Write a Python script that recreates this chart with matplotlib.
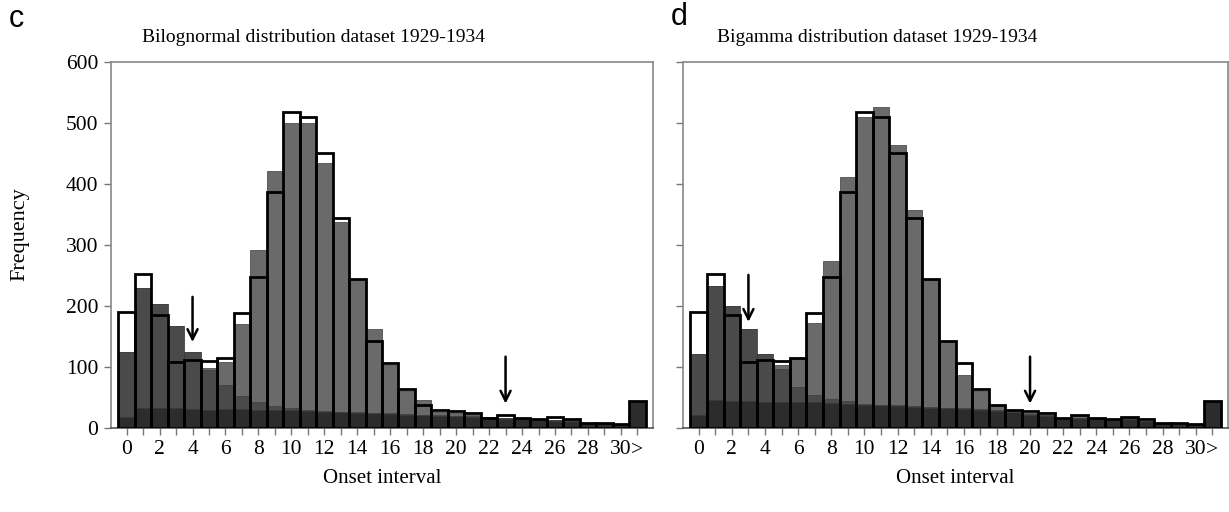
import matplotlib.pyplot as plt
import numpy as np

plt.rcParams['font.family'] = 'Liberation Serif'

# onset interval bins 0..30 plus the ">" overflow bin
bins = np.arange(32)
xlabels = [str(i) if i % 2 == 0 else '' for i in range(31)] + ['>']

# observed onset intervals, 1929-1934
observed = [190, 253, 186, 109, 111, 110, 114, 189, 247, 387, 518, 510, 451, 344, 245, 143,
            106, 64, 38, 30, 28, 24, 16, 21, 16, 15, 18, 14, 8, 9, 6, 44]

# fitted components, bilognormal model
ln_base = [18, 33, 33, 33, 31, 30, 31, 31, 30, 30, 30, 28, 27, 26, 25, 24,
           23, 22, 21, 20, 19, 18, 15, 15, 14, 13, 12, 12, 8, 8, 6, 44]
ln_early = [106, 197, 171, 134, 93, 65, 39, 21, 13, 6, 3, 2, 1, 1, 1, 1,
            1, 1, 1, 1, 1, 1, 1, 1, 1, 1, 1, 0, 0, 0, 0, 0]
ln_main = [0, 0, 0, 0, 0, 3, 39, 118, 248, 385, 467, 470, 406, 311, 218, 138,
           80, 37, 24, 6, 5, 3, 2, 1, 1, 1, 0, 1, 0, 1, 0, 0]
ln_arrows = [(4, 141, 215), (23, 40, 117)]

# fitted components, bigamma model
ga_base = [21, 46, 45, 44, 43, 43, 43, 42, 41, 40, 38, 37, 36, 35, 33, 32,
           31, 30, 28, 26, 22, 20, 15, 16, 14, 13, 14, 11, 8, 7, 6, 44]
ga_early = [101, 186, 155, 119, 79, 54, 25, 12, 7, 4, 2, 1, 1, 1, 1, 1,
            1, 1, 1, 1, 1, 1, 1, 1, 1, 1, 1, 1, 1, 0, 0, 0]
ga_main = [0, 0, 0, 0, 0, 6, 45, 118, 225, 368, 470, 489, 427, 322, 208, 110,
           55, 29, 8, 2, 1, 1, 0, 2, 0, 0, 1, 0, 0, 0, 0, 0]
ga_arrows = [(3, 174, 251), (20, 40, 117)]

W, H = 1229, 512
fig = plt.figure(figsize=(W / 100, H / 100), dpi=100)


def panel(rect, base, early, main, arrows, show_ylabels):
    ax = fig.add_axes(rect)
    base = np.array(base)
    early = np.array(early)
    main = np.array(main)
    ax.bar(bins, observed, width=1, color='white', linewidth=0, zorder=1)
    ax.bar(bins, base, width=1, color='#2c2c2c', edgecolor='#262626', linewidth=0.5, zorder=2)
    ax.bar(bins, early, bottom=base, width=1, color='#4a4a4a', edgecolor='#333333',
           linewidth=0.5, zorder=2)
    ax.bar(bins, main, bottom=base + early, width=1, color='#6a6a6a', edgecolor='#3a3a3a',
           linewidth=0.5, zorder=2)
    ax.bar(bins, observed, width=1, fill=False, edgecolor='black', linewidth=2, zorder=4)
    for x, tip, tail in arrows:
        ax.annotate('', xy=(x, tip), xytext=(x, tail), zorder=5,
                    arrowprops=dict(arrowstyle='->', lw=1.8, color='black',
                                    mutation_scale=18, shrinkA=0, shrinkB=0))
    ax.set_xlim(-0.95, 31.95)
    ax.set_ylim(0, 600)
    ax.set_xticks(bins)
    ax.set_xticklabels(xlabels, fontsize=15.5)
    ax.set_yticks(range(0, 601, 100))
    if show_ylabels:
        ax.tick_params(axis='y', labelsize=15.5)
    else:
        ax.set_yticklabels([])
    ax.tick_params(direction='out', length=5, width=1, color='#777777', pad=4)
    for s in ax.spines.values():
        s.set_color('#888888')
        s.set_linewidth(1.2)
    ax.spines['bottom'].set_color('#555555')
    ax.set_xlabel('Onset interval', fontsize=15, labelpad=7)
    return ax


ax1 = panel([111 / W, 84 / H, 542 / W, 366 / H], ln_base, ln_early, ln_main, ln_arrows, True)
ax1.set_ylabel('Frequency', fontsize=16)
ax1.yaxis.set_label_coords(-0.15, 0.53)
ax2 = panel([683 / W, 84 / H, 545 / W, 366 / H], ga_base, ga_early, ga_main, ga_arrows, False)

fig.text(313 / W, 1 - 38 / H, 'Bilognormal distribution dataset 1929-1934', fontsize=14,
         ha='center', va='center')
fig.text(877 / W, 1 - 38 / H, 'Bigamma distribution dataset 1929-1934', fontsize=14,
         ha='center', va='center')
fig.text(9 / W, 1 - 19 / H, 'c', fontsize=22, family='Liberation Sans', ha='left', va='center')
fig.text(671 / W, 1 - 17 / H, 'd', fontsize=22, family='Liberation Sans', ha='left', va='center')

fig.savefig('out.png', dpi=100)
